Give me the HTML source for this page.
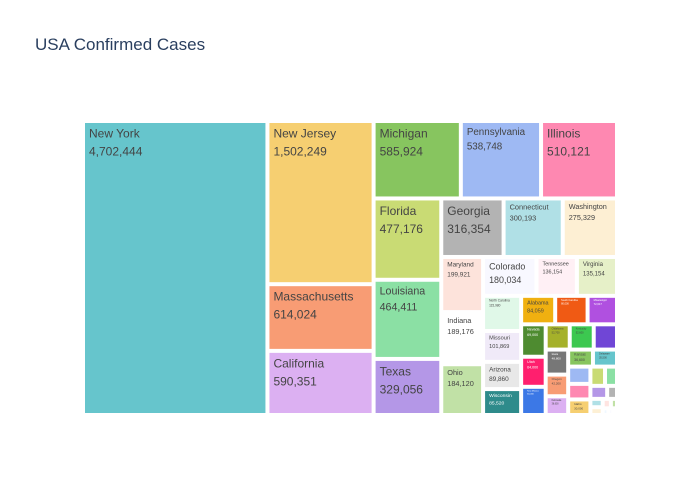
<!DOCTYPE html>
<html><head><meta charset="utf-8">
<style>
html,body{margin:0;padding:0;background:#fff;}
svg{display:block;font-family:"Liberation Sans",Arial,sans-serif;}
</style></head>
<body>
<svg id="chart" width="700" height="500" viewBox="0 0 700 500">
<rect x="0" y="0" width="700" height="500" fill="#fff"/>
<text x="35" y="50" font-size="17" fill="#2a3f5f">USA Confirmed Cases</text>
<g id="tiles"></g>
</svg>
<script>
const states = ["New York","New Jersey","Massachusetts","California","Michigan","Pennsylvania","Illinois","Florida","Louisiana","Texas","Georgia","Connecticut","Washington","Maryland","Indiana","Ohio","Colorado","Tennessee","Virginia","North Carolina","Missouri","Arizona","Wisconsin","Alabama","South Carolina","Mississippi","Nevada","Utah","New Mexico","Oklahoma","Kentucky","Rhode Island","Iowa","Oregon","Nebraska","Kansas","Delaware","Minnesota","South Dakota","Idaho","Arkansas","New Hampshire","District of Columbia","Maine","North Dakota","West Virginia","Vermont","Wyoming","Montana","Hawaii","Alaska"];
const cases = [4702444,1502249,614024,590351,585924,538748,510121,477176,464411,329056,316354,300193,275329,199921,189176,184120,180034,136154,135154,115980,101869,89860,85520,84059,80000,72617,69000,64000,60000,52700,52600,51000,48800,42200,36600,36600,35500,33300,30000,30000,24400,20000,18900,11100,8900,8300,6700,5000,3300,2800,2200];
const colors = ["#66c5cc","#f6cf71","#f89c74","#dcb0f2","#87c55f","#9eb9f3","#fe88b1","#c9db74","#8be0a4","#b497e7","#b3b3b3","#b0e0e6","#fdefd3","#fde3db","#ffffff","#c1e1a6","#f8f8ff","#fff0f5","#e6f0c8","#e0f8e8","#f0eaf8","#e8e8e8","#2e8b8b","#f0b010","#f05a14","#b050e0","#4e8b30","#ff1f6e","#3c78e6","#a5b12a","#3cc850","#7046d6","#777777","#f89c74","#dcb0f2","#87c55f","#66c5cc","#9eb9f3","#fe88b1","#f6cf71","#c9db74","#8be0a4","#b497e7","#b3b3b3","#b0e0e6","#fdf0d5","#ffe4e1","#c1e1a6","#f0f8ff","#f8f8ff","#fffaf0"];

const X0=83, Y0=121, X1=617, Y1=415, PAD=2;
const NS="http://www.w3.org/2000/svg";

function squarify(nodes, x0, y0, x1, y1){
  const out=[]; let value=nodes.reduce((a,n)=>a+n.v,0); let i0=0,i1=0; const n=nodes.length; const ratio=1;
  while(i0<n){
    const dx=x1-x0, dy=y1-y0;
    let sum=nodes[i1++].v, mn=sum, mx=sum;
    const alpha=Math.max(dy/dx,dx/dy)/(value*ratio);
    let beta=sum*sum*alpha; let minR=Math.max(mx/beta,beta/mn);
    for(;i1<n;++i1){
      const nv=nodes[i1].v; sum+=nv; if(nv<mn)mn=nv; if(nv>mx)mx=nv;
      beta=sum*sum*alpha; const nr=Math.max(mx/beta,beta/mn);
      if(nr>minR){sum-=nv;break;} minR=nr;
    }
    const row=nodes.slice(i0,i1);
    if(dx<dy){
      const ny=y0+dy*sum/value; let cx=x0;
      row.forEach(r=>{const w=dx*r.v/sum; out.push({...r,x:cx,y:y0,w:w,h:ny-y0}); cx+=w;});
      y0=ny;
    } else {
      const nx=x0+dx*sum/value; let cy=y0;
      row.forEach(r=>{const h=dy*r.v/sum; out.push({...r,x:x0,y:cy,w:nx-x0,h:h}); cy+=h;});
      x0=nx;
    }
    value-=sum; i0=i1;
  }
  return out;
}
function lum(hex){const c=parseInt(hex.slice(1),16);return (0.299*(c>>16)+0.587*((c>>8)&255)+0.114*(c&255));}
function fmt(v){return v.toString().replace(/\B(?=(\d{3})+(?!\d))/g,",");}

const nodes=states.map((s,i)=>({name:s,v:cases[i],c:colors[i]})).sort((a,b)=>b.v-a.v);
const rects=squarify(nodes,X0,Y0,X1,Y1);
const g=document.getElementById('tiles');
rects.forEach(r=>{
  const grp=document.createElementNS(NS,'g');
  
  
  const x=r.x+PAD,y=r.y+PAD,w=Math.max(0,r.w-2*PAD),h=Math.max(0,r.h-2*PAD);
  const rc=document.createElementNS(NS,'rect');
  rc.setAttribute('x',x);rc.setAttribute('y',y);rc.setAttribute('width',w);rc.setAttribute('height',h);
  rc.setAttribute('fill',r.c);
  
  
  grp.appendChild(rc);
  const val=fmt(r.v);
  const chars=Math.max(r.name.length,val.length);
  let fs=Math.min(12,(w-8)/(0.58*chars),(h-4)/2.6);
  if(fs>=2){
    const t=document.createElementNS(NS,'text');
    t.setAttribute('x',x+4);t.setAttribute('y',y+fs*1.2);
    t.setAttribute('font-size',fs.toFixed(2));
    t.setAttribute('fill',lum(r.c)<140?'#ffffff':'#444444');
    
    
    const a=document.createElementNS(NS,'tspan');a.textContent=r.name;a.setAttribute('x',x+4);
    const b=document.createElementNS(NS,'tspan');b.textContent=val;b.setAttribute('x',x+4);b.setAttribute('dy',(fs*1.5).toFixed(2));
    t.appendChild(a);t.appendChild(b);grp.appendChild(t);
  }
  g.appendChild(grp);
});
</script>
</body></html>
